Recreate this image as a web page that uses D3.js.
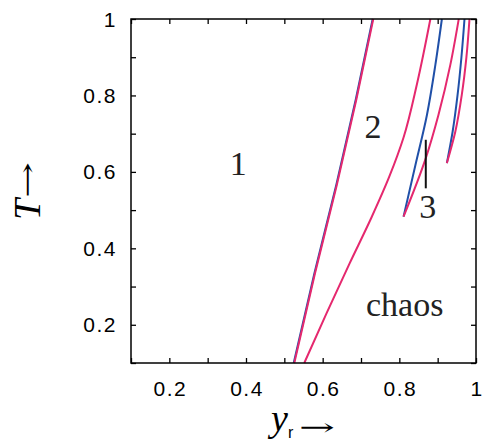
<!DOCTYPE html>
<html>
<head>
<meta charset="utf-8">
<script src="https://cdn.jsdelivr.net/npm/d3@7"></script>
<style>
  body { margin: 0; background: #fff; }
  svg { display: block; }
</style>
</head>
<body>
<div class="chart"></div>
<script>
"use strict";

// tick values
const xTicks = [0.1, 0.2, 0.3, 0.4, 0.5, 0.6, 0.7, 0.8, 0.9, 1.0];
const yTicks = [0.1, 0.2, 0.3, 0.4, 0.5, 0.6, 0.7, 0.8, 0.9, 1.0];
const xLabels = [0.2, 0.4, 0.6, 0.8, 1];
const yLabels = [0.2, 0.4, 0.6, 0.8, 1];

// boundary curves [y_r, T]
const line1Red = [[0.526, 0.1], [0.58, 0.335], [0.637, 0.566], [0.688, 0.79], [0.732, 1.0]];
const line1Blue = [[0.5245, 0.1], [0.5785, 0.335], [0.6355, 0.566], [0.6865, 0.79], [0.7305, 1.0]];
const chaosRed = [[0.552, 0.1], [0.610, 0.23], [0.670, 0.36], [0.727, 0.48], [0.774, 0.588], [0.811, 0.69], [0.846, 0.83], [0.881, 1.0]];
const win3aBlue = [[0.811, 0.483], [0.842, 0.618], [0.872, 0.749], [0.894, 0.88], [0.911, 1.0]];
const win3aRed = [[0.811, 0.483], [0.869, 0.636], [0.902, 0.749], [0.933, 0.88], [0.955, 1.0]];
const win3bBlue = [[0.924, 0.623], [0.939, 0.705], [0.952, 0.802], [0.962, 0.90], [0.970, 1.0]];
const win3bRed = [[0.924, 0.623], [0.946, 0.705], [0.963, 0.802], [0.975, 0.90], [0.983, 1.0]];
const marker3 = [[0.869, 0.557], [0.869, 0.684]];

// region labels
const regions = [
  { text: "1", x: 0.38, y: 0.592, anchor: "middle" },
  { text: "2", x: 0.731, y: 0.689, anchor: "middle" },
  { text: "3", x: 0.874, y: 0.479, anchor: "middle" },
  { text: "chaos", x: 0.713, y: 0.223, anchor: "start" }
];

const W = 489, H = 442;
const magenta = "#e5286e";
const blue = "#2050a8";
const serif = "'Liberation Serif', 'Times New Roman', serif";
const sans = "'Liberation Sans', Arial, sans-serif";

const svg = d3.select(".chart").append("svg").attr("width", W).attr("height", H);

const x = d3.scaleLinear().domain([0.1, 1]).range([131, 476]);
const y = d3.scaleLinear().domain([0.1, 1]).range([363, 19]);

const fmt = (d) => (d === 1 ? "1" : d.toFixed(1));

// axes (ticks inward, mirrored)
const axes = [
  { ax: d3.axisBottom(x), tr: `translate(0,${y(0.1)})`, vals: xTicks },
  { ax: d3.axisTop(x), tr: `translate(0,${y(1)})`, vals: xTicks },
  { ax: d3.axisLeft(y), tr: `translate(${x(0.1)},0)`, vals: yTicks },
  { ax: d3.axisRight(y), tr: `translate(${x(1)},0)`, vals: yTicks }
];
axes.forEach((a) => {
  const g = svg.append("g").attr("transform", a.tr)
    .call(a.ax.tickValues(a.vals).tickSizeInner(-5).tickSizeOuter(0).tickFormat(""));
  g.select(".domain").remove();
  g.selectAll(".tick line").attr("stroke", "#000").attr("stroke-width", 1.3);
});

svg.append("g")
  .attr("font-family", sans)
  .attr("font-size", 21)
  .attr("letter-spacing", 1.5)
  .selectAll("text")
  .data(xLabels)
  .join("text")
  .attr("x", (d) => x(d) + 1)
  .attr("y", 396)
  .attr("text-anchor", "middle")
  .text(fmt);

svg.append("g")
  .attr("font-family", sans)
  .attr("font-size", 21)
  .attr("letter-spacing", 1.5)
  .selectAll("text")
  .data(yLabels)
  .join("text")
  .attr("x", 117)
  .attr("y", (d) => y(d) + 7.5)
  .attr("text-anchor", "end")
  .text(fmt);

// curves
const line = d3.line()
  .x((d) => x(d[0]))
  .y((d) => y(d[1]))
  .curve(d3.curveMonotoneY);

const curves = [
  { d: line1Blue, c: blue },
  { d: line1Red, c: magenta },
  { d: chaosRed, c: magenta },
  { d: win3aBlue, c: blue },
  { d: win3aRed, c: magenta },
  { d: win3bBlue, c: blue },
  { d: win3bRed, c: magenta }
];

svg.append("g")
  .selectAll("path")
  .data(curves)
  .join("path")
  .attr("fill", "none")
  .attr("stroke", (d) => d.c)
  .attr("stroke-width", 2)
  .attr("d", (d) => line(d.d));

svg.append("path")
  .attr("fill", "none")
  .attr("stroke", "#111")
  .attr("stroke-width", 2)
  .attr("d", line(marker3));

// frame
svg.append("rect")
  .attr("x", x(0.1))
  .attr("y", y(1))
  .attr("width", x(1) - x(0.1))
  .attr("height", y(0.1) - y(1))
  .attr("fill", "none")
  .attr("stroke", "#000")
  .attr("stroke-width", 1.5);

// region labels
svg.append("g")
  .attr("font-family", serif)
  .attr("font-size", 34)
  .attr("fill", "#222")
  .selectAll("text")
  .data(regions)
  .join("text")
  .attr("x", (d) => x(d.x))
  .attr("y", (d) => y(d.y))
  .attr("text-anchor", (d) => d.anchor)
  .text((d) => d.text);

// stretched arrow glyph, len px long, starting at (0,0) of group g, shaft on y=0
function arrow(g, len) {
  const t = g.append("text")
    .attr("font-family", "'DejaVu Serif', serif")
    .attr("font-size", 22)
    .attr("dominant-baseline", "central")
    .text("\u2192");
  const w = t.node().getComputedTextLength();
  t.attr("transform", `scale(${len / w},1.05)`);
}

// x title
const xt = svg.append("text")
  .attr("x", 271)
  .attr("y", 431)
  .attr("font-family", serif)
  .attr("font-size", 38);
xt.append("tspan").attr("font-style", "italic").text("y");
xt.append("tspan")
  .attr("font-family", sans)
  .attr("font-size", 16)
  .attr("dy", 7)
  .text("r");
arrow(svg.append("g").attr("transform", "translate(299,427)"), 36);

// y title
const yg = svg.append("g").attr("transform", "translate(40,220) rotate(-90)");
yg.append("text")
  .attr("font-family", serif)
  .attr("font-size", 38)
  .attr("font-style", "italic")
  .text("T");
arrow(yg.append("g").attr("transform", "translate(22,-13)"), 36);
</script>
</body>
</html>
